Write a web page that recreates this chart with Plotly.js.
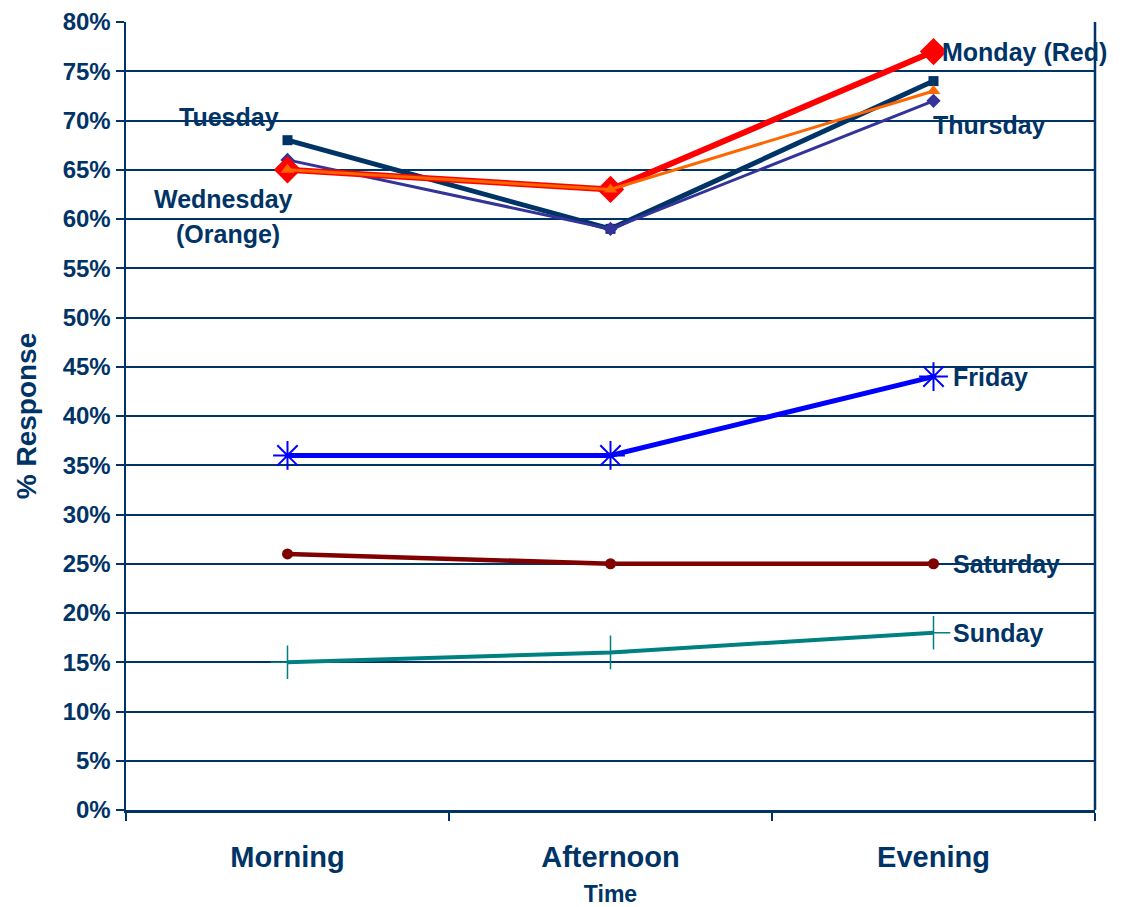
<!DOCTYPE html>
<html>
<head>
<meta charset="utf-8">
<script src="https://cdn.plot.ly/plotly-3.0.1.min.js"></script>
<style>html,body{margin:0;padding:0;background:#fff;}#chart{width:1123px;height:907px;}</style>
</head>
<body>
<div id="chart"></div>
<script>
const times = ["Morning", "Afternoon", "Evening"];
const tuesday = [68, 59, 74];
const thursday = [66, 59, 72];
const monday = [65, 63, 77];
const wednesday = [65, 63, 73];
const friday = [36, 36, 44];
const saturday = [26, 25, 25];
const sunday = [15, 16, 18];
const yTicks = [0,5,10,15,20,25,30,35,40,45,50,55,60,65,70,75,80];
const yTickText = yTicks.map(v => v + "%");

const navy = "#003366";
function tr(name, y, color, width, symbol, size, lineColor, lw) {
  return {
    type: "scatter", mode: "lines+markers", name: name, x: times, y: y,
    line: {color: color, width: width},
    marker: {symbol: symbol, size: size, color: color, line: {color: lineColor || color, width: lw || 0}},
    cliponaxis: false
  };
}
const data = [
  tr("Tuesday", tuesday, "#003366", 5, "square", 10),
  tr("Thursday", thursday, "#333399", 3, "diamond", 11),
  tr("Monday", monday, "#FF0000", 6, "diamond", 21),
  tr("Wednesday", wednesday, "#FF6600", 3, "triangle-up", 12),
  tr("Friday", friday, "#0000FF", 5, "asterisk-open", 24, "#0000FF", 2),
  tr("Saturday", saturday, "#800000", 4.5, "circle", 11),
  tr("Sunday", sunday, "#008080", 4, "cross-thin-open", 24, "#008080", 1.5)
];

const lf = {family: "Liberation Sans, Arial, sans-serif", size: 25, color: navy, weight: "bold"};
function ann(text, x, y, xshift, yshift, xanchor) {
  return {text: text, x: x, y: y, xref: "x", yref: "y", showarrow: false,
    xshift: xshift, yshift: yshift, xanchor: xanchor || "center", yanchor: "middle", font: lf};
}
const annotations = [
  ann("Tuesday", 0, tuesday[0], -59, 23),
  ann("Wednesday", 0, wednesday[0], -64, -29),
  ann("(Orange)", 0, wednesday[0], -60, -64),
  ann("Monday (Red)", 2, monday[2], 6, 0, "left"),
  ann("Thursday", 2, thursday[2], -3, -24, "left"),
  ann("Friday", 2, friday[2], 17, 0, "left"),
  ann("Saturday", 2, saturday[2], 17, 0, "left"),
  ann("Sunday", 2, sunday[2], 17, 0, "left")
];

const layout = {
  width: 1123, height: 907,
  margin: {l: 126, r: 28, t: 22, b: 97},
  paper_bgcolor: "#ffffff", plot_bgcolor: "#ffffff",
  showlegend: false,
  font: {family: "Liberation Sans, Arial, sans-serif", color: navy},
  xaxis: {
    type: "category", range: [-0.5, 2.5],
    tickson: "boundaries", ticks: "outside", ticklen: 8, tickwidth: 2, tickcolor: navy,
    showline: true, linecolor: navy, linewidth: 2.5, mirror: false,
    showgrid: false, zeroline: false,
    tickfont: {size: 29, color: navy, weight: "bold"},
    ticklabelstandoff: 20,
    title: {text: "Time", font: {size: 23, color: navy, weight: "bold"}, standoff: 16}
  },
  yaxis: {
    range: [0, 80], tickvals: yTicks, ticktext: yTickText,
    ticks: "outside", ticklen: 8, tickwidth: 2, tickcolor: navy,
    showline: true, linecolor: navy, linewidth: 2.5,
    showgrid: true, gridcolor: navy, gridwidth: 2, zeroline: false,
    tickfont: {size: 24, color: navy, weight: "bold"},
    title: {text: "% Response", font: {size: 28, color: navy, weight: "bold"}, standoff: 18}
  },
  shapes: [
    {type: "line", xref: "paper", yref: "paper", x0: 1, x1: 1, y0: 0, y1: 1, line: {color: navy, width: 2.5}}
  ],
  annotations: annotations
};

Plotly.newPlot("chart", data, layout, {displayModeBar: false, staticPlot: true});
</script>
</body>
</html>
